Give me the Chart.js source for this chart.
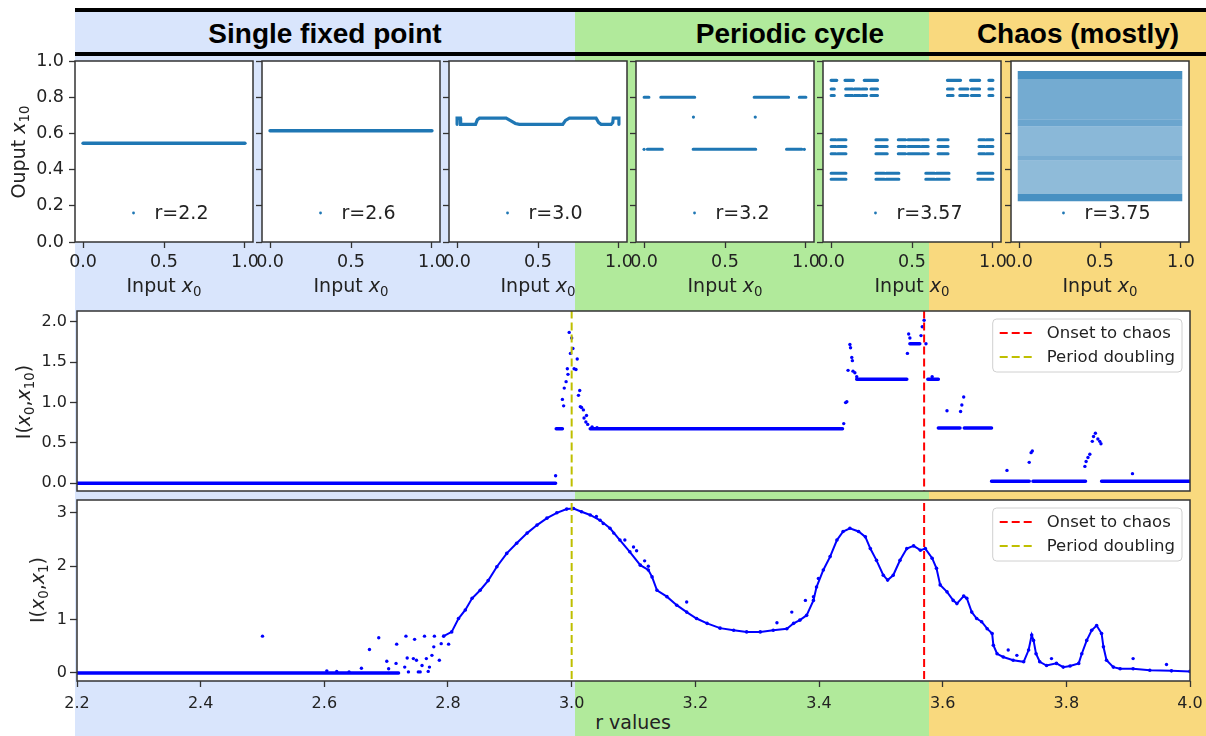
<!DOCTYPE html>
<html>
<head>
<meta charset="utf-8">
<title>Logistic map: fixed point, cycles, chaos</title>
<script src="https://cdn.jsdelivr.net/npm/chart.js@4.4.1/dist/chart.umd.min.js"></script>
<style>
  body { margin:0; width:1206px; height:736px; position:relative; overflow:hidden; background:#fff; font-family:"DejaVu Sans", sans-serif; }
  .band { position:absolute; top:8px; bottom:0; }
  .rule { position:absolute; left:75px; right:0; background:#000; }
  .head { position:absolute; top:34px; transform:translate(-50%,-50%); font:bold 28px "Liberation Sans", Arial, sans-serif; color:#000; white-space:nowrap; }
  .lab { position:absolute; font-size:19px; color:#222; white-space:nowrap; transform:translate(-50%,-50%); }
  .lab.rot { transform:translate(-50%,-50%) rotate(-90deg); }
  .lab sub { font-size:0.7em; position:relative; top:0.28em; vertical-align:baseline; }
  canvas { position:absolute; }
</style>
</head>
<body>
<div class="band" style="left:75px;width:500px;background:#d9e5fc"></div>
<div class="band" style="left:575px;width:354px;background:#b1ea9b"></div>
<div class="band" style="left:929px;width:277px;background:#f9d97e"></div>
<div class="rule" style="top:8px;height:4px"></div>
<div class="rule" style="top:52px;height:4px"></div>
<div class="head" style="left:325px">Single fixed point</div>
<div class="head" style="left:790px">Periodic cycle</div>
<div class="head" style="left:1078px">Chaos (mostly)</div>

<script>
// ---- small panels: output x10 against input x0 ----
const rLabels = ['r=2.2', 'r=2.6', 'r=3.0', 'r=3.2', 'r=3.57', 'r=3.75'];
const x0Ticks = [0, 0.5, 1];
const outTicks = [0, 0.2, 0.4, 0.6, 0.8, 1.0];

const fixed22 = 0.545;
const fixed26 = 0.615;

// r=3.0 slow oscillation [x0, x10]
const cyc30 = [[0,0.65],[0,0.684],[0.01,0.684],[0.02,0.684],[0.022,0.65],[0.03,0.65],[0.114,0.65],[0.125,0.675],
  [0.138,0.684],[0.303,0.684],[0.33,0.67],[0.36,0.655],[0.385,0.65],[0.653,0.65],[0.67,0.672],[0.694,0.684],
  [0.859,0.684],[0.875,0.66],[0.89,0.65],[0.952,0.65],[0.962,0.66],[0.965,0.684],[0.99,0.684],[1.0,0.684],[1.0,0.65]];

// r=3.2 two-cycle
const p32Levels = [0.80, 0.512];
const p32HiRuns = [[0,0.03],[0.103,0.313],[0.68,0.893],[0.959,1.0]];
const p32LoRuns = [[0.02,0.113],[0.303,0.69],[0.88,0.975]];
const p32Dots = [[0,0.512],[0.99,0.512],[0.305,0.69],[0.687,0.69]];

// r=3.57 clusters
const p357TopLevel = [0.893];
const p357TopRuns = [[0,0.035],[0.086,0.138],[0.205,0.287],[0.719,0.8],[0.862,0.918],[0.975,1]];
const p357UpLevels = [0.845, 0.81];
const p357UpRuns = [[0,0.02],[0.09,0.133],[0.144,0.18],[0.19,0.22],[0.246,0.287],[0.719,0.754],[0.795,0.846],[0.867,0.918],[0.975,1]];
const p357MidLevels = [0.565, 0.528, 0.487];
const p357MidRuns = [[0,0.03],[0.04,0.092],[0.277,0.347],[0.415,0.46],[0.475,0.55],[0.56,0.6],[0.661,0.723],[0.914,0.95],[0.96,1]];
const p357LowLevels = [0.38, 0.346];
const p357LowRuns = [[0,0.092],[0.277,0.33],[0.34,0.419],[0.585,0.64],[0.65,0.729],[0.907,1]];

// r=3.75 cloud: band edges and how dense the dots are in each band
const chaosEdges = [0.225, 0.265, 0.45, 0.475, 0.64, 0.675, 0.90, 0.945];
const chaosDensity = [0.82, 0.5, 0.6, 0.52, 0.66, 0.62, 0.82];

// ---- big panels: mutual information against r ----
const rTicks = [2.2, 2.4, 2.6, 2.8, 3.0, 3.2, 3.4, 3.6, 3.8, 4.0];
const mi10Ticks = [0, 0.5, 1, 1.5, 2];
const mi1Ticks = [0, 1, 2, 3];
const periodDoubling = 3.0;
const onsetChaos = 3.57;
const legendLabels = ['Onset to chaos', 'Period doubling'];

const mi10RunFrom = [2.2, 2.975, 3.03, 3.461, 3.547, 3.576, 3.593, 3.635, 3.679, 3.746, 3.857];
const mi10RunTo   = [2.974, 2.985, 3.438, 3.542, 3.563, 3.593, 3.628, 3.679, 3.740, 3.831, 4.0];
const mi10RunVal  = [0, 0.675, 0.675, 1.29, 1.73, 1.29, 0.685, 0.685, 0.025, 0.025, 0.025];
const mi10Dots = [[2.974,0.094],[2.985,1.04],[2.987,0.96],[2.988,1.18],[2.991,1.26],[2.993,1.42],[2.994,1.35],
  [2.996,1.87],[2.998,1.61],[3.000,1.80],[3.002,1.67],[3.004,1.42],[3.007,1.41],[3.009,1.54],[3.011,1.09],
  [3.013,1.15],[3.014,0.95],[3.016,0.94],[3.019,0.91],[3.020,0.81],[3.023,0.76],[3.024,0.84],[3.026,0.73],
  [3.033,0.70],[3.041,0.69],[3.440,0.74],[3.443,1.00],[3.445,1.01],[3.447,1.40],[3.450,1.72],[3.451,1.68],
  [3.453,1.56],[3.454,1.52],[3.455,1.39],[3.458,1.37],[3.461,1.32],[3.543,1.61],[3.545,1.85],[3.547,1.80],
  [3.565,1.83],[3.567,1.94],[3.570,2.02],[3.573,1.73],[3.583,1.32],[3.607,0.90],[3.629,0.89],[3.631,0.97],
  [3.634,1.07],[3.704,0.16],[3.740,0.26],[3.743,0.38],[3.745,0.40],[3.830,0.21],[3.832,0.27],[3.835,0.32],
  [3.838,0.36],[3.842,0.52],[3.844,0.58],[3.847,0.62],[3.851,0.55],[3.854,0.52],[3.856,0.49],[3.907,0.12]];

const mi1Base = [[2.2,0],[2.4,0],[2.6,0],[2.72,0]];
const mi1Curve = [[2.793,0.69],[2.806,0.77],[2.817,1.02],[2.828,1.18],[2.839,1.40],[2.852,1.55],[2.865,1.73],
  [2.879,1.99],[2.895,2.24],[2.911,2.43],[2.928,2.62],[2.944,2.77],[2.960,2.90],[2.976,3.00],[2.992,3.07],
  [3.003,3.08],[3.016,3.02],[3.030,2.96],[3.046,2.86],[3.062,2.71],[3.078,2.49],[3.094,2.27],[3.111,2.02],
  [3.124,1.93],[3.130,1.80],[3.138,1.55],[3.154,1.43],[3.170,1.27],[3.186,1.14],[3.202,1.02],[3.219,0.93],
  [3.240,0.84],[3.262,0.80],[3.283,0.77],[3.305,0.77],[3.326,0.80],[3.348,0.83],[3.359,0.93],[3.369,0.99],
  [3.380,1.08],[3.391,1.36],[3.396,1.61],[3.407,1.93],[3.418,2.18],[3.429,2.49],[3.439,2.65],[3.450,2.71],
  [3.464,2.65],[3.475,2.55],[3.483,2.33],[3.493,2.11],[3.504,1.83],[3.511,1.74],[3.520,1.83],[3.531,2.11],
  [3.542,2.33],[3.553,2.38],[3.564,2.30],[3.572,2.33],[3.583,2.15],[3.590,1.96],[3.596,1.65],[3.607,1.52],
  [3.617,1.36],[3.623,1.30],[3.634,1.44],[3.639,1.40],[3.647,1.14],[3.655,1.02],[3.663,0.96],[3.672,0.83],
  [3.680,0.74],[3.682,0.52],[3.688,0.36],[3.698,0.30],[3.714,0.24],[3.731,0.21],[3.739,0.43],[3.744,0.71],
  [3.747,0.61],[3.751,0.36],[3.757,0.21],[3.768,0.14],[3.784,0.18],[3.795,0.11],[3.806,0.13],[3.820,0.18],
  [3.825,0.36],[3.833,0.61],[3.841,0.80],[3.849,0.89],[3.857,0.74],[3.860,0.49],[3.865,0.24],[3.876,0.11],
  [3.887,0.08],[3.908,0.08],[3.935,0.05],[3.970,0.04],[4.0,0.03]];
const mi1Dots = [[2.500,0.69],[2.604,0.04],[2.620,0.03],[2.640,0.02],[2.660,0.09],[2.673,0.44],[2.688,0.66],
  [2.701,0.22],[2.704,0.08],[2.716,0.18],[2.717,0.54],[2.730,0.11],[2.732,0.69],[2.734,0.28],[2.736,0.02],
  [2.744,0.27],[2.746,0.63],[2.749,0.24],[2.752,0.02],[2.755,0.02],[2.758,0.14],[2.762,0.69],[2.765,0.27],
  [2.768,0.03],[2.770,0.11],[2.774,0.33],[2.777,0.49],[2.778,0.69],[2.786,0.24],[2.789,0.55],[2.801,0.54],
  [3.040,2.93],[3.051,2.80],[3.068,2.62],[3.086,2.49],[3.100,2.36],[3.105,2.29],[3.118,2.10],[3.124,2.00],
  [3.186,1.33],[3.332,0.94],[3.356,1.14],[3.378,1.36],[3.391,1.43],[3.399,1.77],
  [3.706,0.43],[3.720,0.33],[3.776,0.27],[3.908,0.27],[3.962,0.16]];

// ---- helpers ----
const FONT = 'DejaVu Sans';
const TAB = '#1f77b4';
const BLUE = '#0000ff';
const INK = '#222';
Chart.defaults.font.family = FONT;

function makeCanvas(left, top, w, h) {
  const c = document.createElement('canvas');
  c.width = w; c.height = h;
  c.style.left = left + 'px'; c.style.top = top + 'px';
  document.body.appendChild(c);
  return c.getContext('2d');
}
function pairs(list) { return list.map(p => ({x: p[0], y: p[1]})); }
function runs(list, level) {
  const pts = [];
  list.forEach(r => pts.push({x: r[0], y: level}, {x: r[1], y: level}, {x: r[1], y: null}));
  return pts;
}
function runLine(data, color, width) {
  return {type: 'line', data: data, borderColor: color, borderWidth: width, pointRadius: 0,
          borderCapStyle: 'round', spanGaps: false, tension: 0};
}
function dots(data, color, r) {
  return {type: 'scatter', data: data, pointRadius: r, pointBackgroundColor: color, pointBorderWidth: 0};
}
function vline(x, color) {
  return {type: 'line', data: [{x: x, y: -10}, {x: x, y: 10}], borderColor: color, borderWidth: 2,
          borderDash: [8, 4], pointRadius: 0};
}

const framePlugin = {
  id: 'frame',
  beforeDraw(chart) {
    const a = chart.chartArea, ctx = chart.ctx;
    ctx.save(); ctx.fillStyle = '#fff';
    ctx.fillRect(a.left, a.top, a.right - a.left, a.bottom - a.top);
    ctx.restore();
  },
  afterDraw(chart) {
    const a = chart.chartArea, ctx = chart.ctx;
    ctx.save(); ctx.strokeStyle = '#333'; ctx.lineWidth = 1.5;
    ctx.strokeRect(a.left, a.top, a.right - a.left, a.bottom - a.top);
    ctx.restore();
  }
};

function miniLegend(text) {
  return {
    id: 'miniLegend',
    afterDraw(chart) {
      const a = chart.chartArea, ctx = chart.ctx;
      ctx.save();
      ctx.font = '19px "' + FONT + '"';
      const tw = ctx.measureText(text).width;
      const x0 = (a.left + a.right) / 2 - (35 + tw) / 2;
      const y = a.bottom - 29;
      ctx.fillStyle = TAB;
      ctx.beginPath(); ctx.arc(x0 + 14, y, 1.4, 0, Math.PI * 2); ctx.fill();
      ctx.fillStyle = INK; ctx.textBaseline = 'middle';
      ctx.fillText(text, x0 + 35, y + 1);
      ctx.restore();
    }
  };
}

function boxLegend(labels, colors) {
  return {
    id: 'boxLegend',
    afterDraw(chart) {
      const a = chart.chartArea, ctx = chart.ctx;
      ctx.save();
      ctx.font = '16.5px "' + FONT + '"';
      const tw = Math.max(...labels.map(t => ctx.measureText(t).width));
      const w = 7 + 34 + 13 + tw + 7, h = 53;
      const left = a.right - 8 - w, top = a.top + 8, rad = 4;
      ctx.beginPath();
      ctx.moveTo(left + rad, top); ctx.lineTo(left + w - rad, top);
      ctx.quadraticCurveTo(left + w, top, left + w, top + rad);
      ctx.lineTo(left + w, top + h - rad);
      ctx.quadraticCurveTo(left + w, top + h, left + w - rad, top + h);
      ctx.lineTo(left + rad, top + h);
      ctx.quadraticCurveTo(left, top + h, left, top + h - rad);
      ctx.lineTo(left, top + rad);
      ctx.quadraticCurveTo(left, top, left + rad, top);
      ctx.fillStyle = 'rgba(255,255,255,0.85)'; ctx.fill();
      ctx.strokeStyle = '#d0d0d0'; ctx.lineWidth = 1; ctx.stroke();
      labels.forEach((t, i) => {
        const y = top + 14 + i * 24;
        ctx.strokeStyle = colors[i]; ctx.lineWidth = 2; ctx.setLineDash([8, 4]);
        ctx.beginPath(); ctx.moveTo(left + 7, y); ctx.lineTo(left + 41, y); ctx.stroke();
        ctx.setLineDash([]);
        ctx.fillStyle = INK; ctx.textBaseline = 'middle';
        ctx.fillText(t, left + 54, y + 1);
      });
      ctx.restore();
    }
  };
}

function tickList(list) { return s => { s.ticks = list.map(v => ({value: v})); }; }
function axisGrid(len) {
  return {drawOnChartArea: false, drawTicks: true, tickLength: len, tickColor: '#333', tickWidth: 1.3};
}

// ---- datasets for the small panels ----
const chaosSets = chaosDensity.map((d, i) => ({
  type: 'line',
  data: [{x: -0.01, y: chaosEdges[i + 1]}, {x: 1.01, y: chaosEdges[i + 1]}],
  borderWidth: 0, pointRadius: 0,
  fill: {value: chaosEdges[i]},
  backgroundColor: 'rgba(31,119,180,' + d + ')'
}));

const smallSets = [
  [runLine([{x: 0, y: fixed22}, {x: 1, y: fixed22}], TAB, 3.5)],
  [runLine([{x: 0, y: fixed26}, {x: 1, y: fixed26}], TAB, 3.5)],
  [runLine(pairs(cyc30), TAB, 3.2)],
  [runLine(runs(p32HiRuns, p32Levels[0]), TAB, 3),
   runLine(runs(p32LoRuns, p32Levels[1]), TAB, 3),
   dots(pairs(p32Dots), TAB, 1.6)],
  [].concat(
    p357TopLevel.map(v => runLine(runs(p357TopRuns, v), TAB, 3.2)),
    p357UpLevels.map(v => runLine(runs(p357UpRuns, v), TAB, 3)),
    p357MidLevels.map(v => runLine(runs(p357MidRuns, v), TAB, 3)),
    p357LowLevels.map(v => runLine(runs(p357LowRuns, v), TAB, 3))),
  chaosSets
];

// plot area of small panels: top 61, bottom 242, width 178
const smallLeft = [75, 262, 449, 636, 823, 1011];
smallLeft.forEach((L, i) => {
  const ctx = makeCanvas(L - 70, 45, 178 + 70 + 24, 227);
  new Chart(ctx, {
    type: 'scatter',
    data: {datasets: smallSets[i]},
    options: {
      responsive: false, animation: false, events: [],
      layout: {padding: {top: 16, right: 24, left: 0, bottom: 0}},
      plugins: {legend: {display: false}, tooltip: {enabled: false}},
      scales: {
        x: {type: 'linear', min: -0.05, max: 1.05,
            afterFit: s => { s.height = 30; },
            afterBuildTicks: tickList(x0Ticks),
            ticks: {callback: v => v.toFixed(1), font: {size: 17.5}, color: INK, padding: 4, maxRotation: 0},
            grid: axisGrid(6), border: {display: false}},
        y: {min: 0, max: 1,
            afterFit: s => { s.width = 70; },
            afterBuildTicks: tickList(outTicks),
            ticks: {callback: v => (i === 0 ? v.toFixed(1) : ''), font: {size: 17.5}, color: INK, padding: 5},
            grid: axisGrid(6), border: {display: false}}
      }
    },
    plugins: [framePlugin, miniLegend(rLabels[i])]
  });
});

// ---- big panels ----
const mi10Runs = [];
mi10RunFrom.forEach((f, i) => {
  mi10Runs.push({x: f, y: mi10RunVal[i]}, {x: mi10RunTo[i], y: mi10RunVal[i]}, {x: mi10RunTo[i], y: null});
});

function bigChart(top, height, padBottom, xHeight, yMin, yMax, yTicks, yFmt, showX, datasets) {
  const ctx = makeCanvas(7, top, 1183 + 26, height);
  return new Chart(ctx, {
    type: 'scatter',
    data: {datasets: datasets},
    options: {
      responsive: false, animation: false, events: [],
      layout: {padding: {top: 16, right: 26, left: 0, bottom: padBottom}},
      plugins: {legend: {display: false}, tooltip: {enabled: false}},
      scales: {
        x: {type: 'linear', min: 2.2, max: 4.0, display: showX,
            afterFit: s => { s.height = xHeight; },
            afterBuildTicks: tickList(rTicks),
            ticks: {callback: v => v.toFixed(1), font: {size: 16}, color: INK, padding: 7, maxRotation: 0},
            grid: axisGrid(6), border: {display: false}},
        y: {min: yMin, max: yMax,
            afterFit: s => { s.width = 70; },
            afterBuildTicks: tickList(yTicks),
            ticks: {callback: yFmt, font: {size: 16}, color: INK, padding: 3},
            grid: axisGrid(7), border: {display: false}}
      }
    },
    plugins: [framePlugin, boxLegend(legendLabels, ['#ff0000', '#bfbf00'])]
  });
}

// top panel area 311..491, bottom panel area 500..681, both 77..1190
bigChart(295, 210, 14, 0, -0.095, 2.135, mi10Ticks, v => v.toFixed(1), false, [
  vline(onsetChaos, '#ff0000'),
  vline(periodDoubling, '#bfbf00'),
  dots(pairs(mi10Dots), BLUE, 1.7),
  runLine(mi10Runs, BLUE, 3.5)
]);

bigChart(484, 227, 0, 30, -0.15, 3.24, mi1Ticks, v => String(v), true, [
  vline(onsetChaos, '#ff0000'),
  vline(periodDoubling, '#bfbf00'),
  dots(pairs(mi1Dots), BLUE, 1.7),
  {type: 'line', data: pairs(mi1Curve), borderColor: BLUE, borderWidth: 2, pointRadius: 1.8,
   pointBackgroundColor: BLUE, pointBorderWidth: 0, tension: 0},
  runLine(pairs(mi1Base), BLUE, 3.5)
]);
</script>

<div class="lab rot" style="left:18px;top:152px">Ouput <i>x</i><sub>10</sub></div>
<div class="lab rot" style="left:23px;top:402px">I(<i>x</i><sub>0</sub>,<i>x</i><sub>10</sub>)</div>
<div class="lab rot" style="left:37px;top:590px">I(<i>x</i><sub>0</sub>,<i>x</i><sub>1</sub>)</div>
<div class="lab" style="left:164px;top:285px">Input <i>x</i><sub>0</sub></div>
<div class="lab" style="left:351px;top:285px">Input <i>x</i><sub>0</sub></div>
<div class="lab" style="left:538px;top:285px">Input <i>x</i><sub>0</sub></div>
<div class="lab" style="left:725px;top:285px">Input <i>x</i><sub>0</sub></div>
<div class="lab" style="left:912px;top:285px">Input <i>x</i><sub>0</sub></div>
<div class="lab" style="left:1100px;top:285px">Input <i>x</i><sub>0</sub></div>
<div class="lab" style="left:633px;top:722px">r values</div>
</body>
</html>
